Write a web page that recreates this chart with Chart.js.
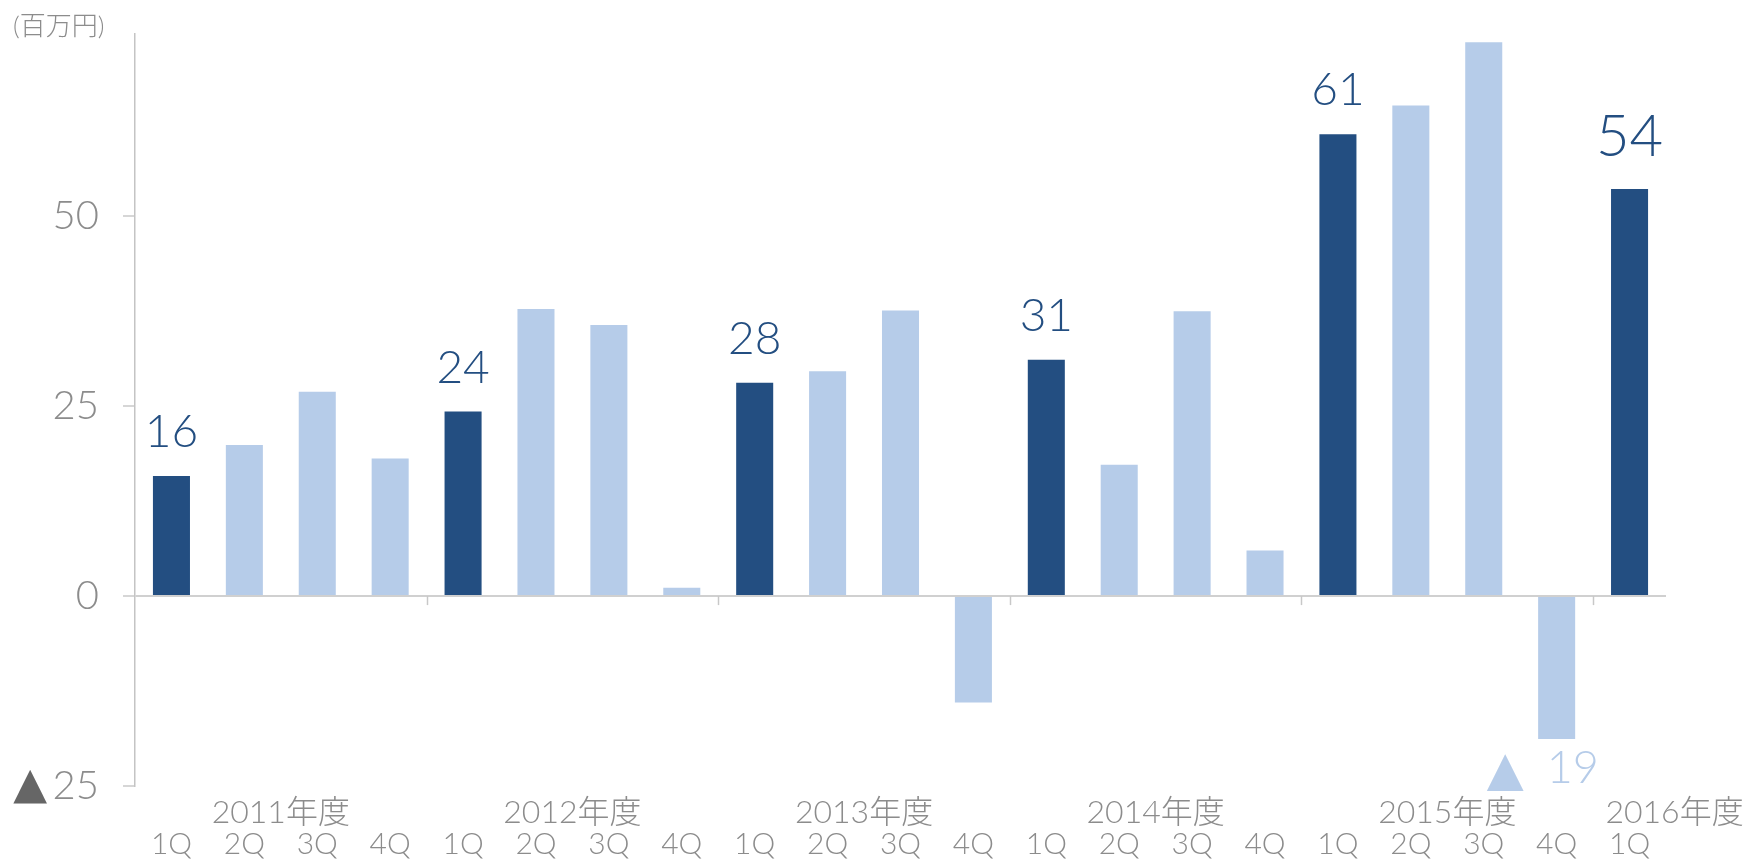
<!DOCTYPE html>
<html><head><meta charset="utf-8">
<script src="https://cdn.jsdelivr.net/npm/chart.js@4/dist/chart.umd.min.js"></script>
<style>html,body{margin:0;padding:0;background:#fff}#wrap{width:1746px;height:859px}</style>
</head><body><div id="wrap"><canvas id="c" width="1746" height="859"></canvas></div>
<script>
// ---- data ----
const quarters = ['1Q','2Q','3Q','4Q','1Q','2Q','3Q','4Q','1Q','2Q','3Q','4Q','1Q','2Q','3Q','4Q','1Q','2Q','3Q','4Q','1Q'];
const fiscalYears = ['2011年度','2012年度','2013年度','2014年度','2015年度','2016年度'];
const profit = [15.8, 19.9, 26.9, 18.1, 24.3, 37.8, 35.7, 1.1, 28.1, 29.6, 37.6, -14.0, 31.1, 17.3, 37.5, 6.0, 60.8, 64.6, 72.9, -18.8, 53.6];
const yTickValues = [-25, 0, 25, 50];
const labelledBars = [0, 4, 8, 12, 16, 19, 20];
const unitLabel = '(百万円)';

const DARK = '#234e81';
const LIGHT = '#b6cce9';
const GREY = '#8c8c8c';
const FONT = "Lato, 'Noto Sans CJK JP', sans-serif";

const overlay = {
  id: 'overlay',
  afterDatasetsDraw(chart) {
    const ctx = chart.ctx;
    const meta = chart.getDatasetMeta(0);
    ctx.save();
    labelledBars.forEach(i => {
      const bar = meta.data[i];
      const v = profit[i];
      const txt = String(Math.round(Math.abs(v)));
      if (v >= 0) {
        const big = i === profit.length - 1;
        ctx.font = '300 ' + (big ? 58 : 46) + 'px ' + FONT;
        ctx.fillStyle = DARK;
        ctx.textAlign = 'center';
        ctx.textBaseline = 'alphabetic';
        ctx.fillText(txt, bar.x, bar.y - (big ? 33 : 29));
      } else {
        const by = bar.y + 44;
        ctx.fillStyle = LIGHT;
        ctx.textBaseline = 'alphabetic';
        ctx.font = '300 45px ' + FONT;
        ctx.textAlign = 'left';
        ctx.fillText(txt, bar.x - 10, by);
        ctx.font = '48px "DejaVu Sans"';
        ctx.textAlign = 'right';
        ctx.fillText('▲', bar.x - 33, by + 2);
      }
    });
    ctx.restore();
  },
  afterDraw(chart) {
    const ctx = chart.ctx;
    const xs = chart.scales.x, ys = chart.scales.y;
    const y0 = ys.getPixelForValue(0);
    ctx.save();
    // year boundary ticks
    ctx.strokeStyle = '#c8c8c8';
    ctx.lineWidth = 1.5;
    for (let i = 4; i < quarters.length; i += 4) {
      const bx = Math.round((xs.getPixelForValue(i - 1) + xs.getPixelForValue(i)) / 2) + 0.5;
      ctx.beginPath(); ctx.moveTo(bx, y0); ctx.lineTo(bx, y0 + 9); ctx.stroke();
    }
    // fiscal year labels
    ctx.fillStyle = GREY;
    ctx.font = '300 32px ' + FONT;
    ctx.textAlign = 'center';
    ctx.textBaseline = 'alphabetic';
    fiscalYears.forEach((yr, k) => {
      const i = k * 4;
      let x;
      if (i + 2 < quarters.length) x = (xs.getPixelForValue(i + 1) + xs.getPixelForValue(i + 2)) / 2;
      else x = xs.getPixelForValue(i) + 45;
      ctx.fillText(yr, x, xs.top + 37);
    });
    // unit label
    ctx.textAlign = 'left';
    ctx.font = '300 26px ' + FONT;
    ctx.fillText(unitLabel, 13, 35);
    // negative marker on the -25 tick
    ctx.fillStyle = '#666666';
    ctx.font = '44px "DejaVu Sans"';
    ctx.textAlign = 'right';
    ctx.fillText('▲', 47, ys.getPixelForValue(-25) + 12);
    ctx.restore();
  }
};

new Chart(document.getElementById('c'), {
  type: 'bar',
  data: {
    labels: quarters,
    datasets: [{
      data: profit,
      backgroundColor: profit.map((v, i) => i % 4 === 0 ? DARK : LIGHT),
      borderWidth: 0,
      barPercentage: 1,
      categoryPercentage: 0.508
    }]
  },
  options: {
    responsive: false,
    animation: false,
    layout: { padding: { top: 34, right: 80, left: 0, bottom: 0 } },
    plugins: { legend: { display: false }, tooltip: { enabled: false } },
    scales: {
      x: {
        grid: { display: false, drawTicks: false },
        border: { display: false },
        ticks: { color: GREY, font: { family: FONT, size: 30, weight: 300 }, padding: 40, maxRotation: 0, autoSkip: false },
        afterFit(s) { s.height = 73; s.paddingLeft = 0; s.paddingRight = 0; }
      },
      y: {
        min: -25, max: 74,
        afterBuildTicks(s) { s.ticks = yTickValues.map(v => ({ value: v })); },
        ticks: { color: GREY, font: { family: FONT, size: 40, weight: 300 }, padding: 24, callback: v => String(Math.abs(v)) },
        grid: {
          color: c => (c.tick && c.tick.value === 0) ? '#d0d0d0' : 'rgba(0,0,0,0)',
          lineWidth: 2,
          tickLength: 12,
          tickColor: '#c8c8c8',
          tickWidth: 1.5,
          drawTicks: true
        },
        border: { display: true, color: '#c4c4c4', width: 1.5 },
        afterFit(s) { s.width = 135; s.paddingTop = 0; s.paddingBottom = 0; }
      }
    }
  },
  plugins: [overlay]
});
</script></body></html>
